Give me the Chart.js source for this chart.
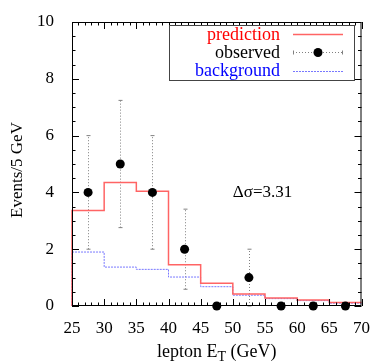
<!DOCTYPE html>
<html>
<head>
<meta charset="utf-8">
<script src="https://cdn.jsdelivr.net/npm/chart.js@4/dist/chart.umd.min.js"></script>
<style>
  html, body { margin: 0; padding: 0; background: #fff; }
</style>
</head>
<body>
<canvas id="chart" width="374" height="363"></canvas>
<script>
// histogram bins (GeV)
const binEdges = [25, 30, 35, 40, 45, 50, 55, 60, 65, 70];
const binCenters = [27.5, 32.5, 37.5, 42.5, 47.5, 52.5, 57.5, 62.5, 67.5];
const prediction = [3.36, 4.35, 4.04, 1.45, 0.80, 0.42, 0.28, 0.21, 0.12];
const background = [1.90, 1.37, 1.29, 1.02, 0.68, 0.38, 0.26, 0.19, 0.10];
const observed = [4, 5, 4, 2, 0, 1, 0, 0, 0];
const errLow = [2, 2.76, 2, 0.59, null, 0, null, null, null];
const errHigh = [6, 7.24, 6, 3.41, null, 2, null, null, null];
const xTicks = [25, 30, 35, 40, 45, 50, 55, 60, 65, 70];
const yTicks = [0, 2, 4, 6, 8, 10];

const SERIF = "'Liberation Serif', 'DejaVu Serif', serif";
const RED = '#ff6464';
const BLUE = '#7878ff';
const GREY = '#808080';

function stepPoints(vals) {
    const pts = [{ x: binEdges[0], y: 0 }];
    vals.forEach((v, i) => pts.push({ x: binEdges[i], y: v }));
    pts.push({ x: binEdges[binEdges.length - 1], y: vals[vals.length - 1] });
    return pts;
}

const obsPoints = observed.map((v, i) => ({ x: binCenters[i], y: v }));

// dotted error bars, drawn under the points
const errorBars = {
    id: 'errorBars',
    beforeDatasetsDraw(chart) {
        const c = chart.ctx, xs = chart.scales.x, ys = chart.scales.y;
        c.save();
        c.strokeStyle = GREY;
        c.lineWidth = 1;
        c.setLineDash([1, 2]);
        binCenters.forEach((x, i) => {
            if (errLow[i] === null) return;
            const px = Math.round(xs.getPixelForValue(x)) + 0.5;
            const y1 = ys.getPixelForValue(errLow[i]);
            const y2 = ys.getPixelForValue(errHigh[i]);
            c.beginPath();
            c.moveTo(px, y1); c.lineTo(px, y2);
            c.stroke();
            c.setLineDash([]);
            c.beginPath();
            c.moveTo(px - 2, y1); c.lineTo(px + 2, y1);
            c.moveTo(px - 2, y2); c.lineTo(px + 2, y2);
            c.stroke();
            c.setLineDash([1, 2]);
        });
        c.restore();
    }
};

// frame, inward ticks, titles, legend, label
const decorations = {
    id: 'decorations',
    afterDraw(chart) {
        const c = chart.ctx, a = chart.chartArea, xs = chart.scales.x, ys = chart.scales.y;
        c.save();
        c.strokeStyle = '#000';
        c.lineWidth = 1;
        c.strokeRect(a.left + 0.5, a.top + 0.5, a.right - a.left - 1, a.bottom - a.top - 1);

        c.beginPath();
        for (let v = xs.min; v <= xs.max; v += 1) {
            const len = v % 5 === 0 ? 7 : 3.5;
            const px = Math.round(xs.getPixelForValue(v)) + 0.5;
            c.moveTo(px, a.bottom); c.lineTo(px, a.bottom - len);
            c.moveTo(px, a.top); c.lineTo(px, a.top + len);
        }
        for (let v = ys.min; v <= ys.max + 0.001; v += 0.5) {
            const len = v % 2 === 0 ? 7 : 3.5;
            const py = Math.round(ys.getPixelForValue(v)) + 0.5;
            c.moveTo(a.left, py); c.lineTo(a.left + len, py);
            c.moveTo(a.right, py); c.lineTo(a.right - len, py);
        }
        c.stroke();

        // annotation
        c.fillStyle = '#000';
        c.font = '17px ' + SERIF;
        c.textAlign = 'left';
        c.textBaseline = 'middle';
        c.fillText('\u0394\u03c3=3.31', xs.getPixelForValue(50), ys.getPixelForValue(4));

        // x title with subscript
        const cx = (a.left + a.right) / 2, ty = 357;
        const p1 = 'lepton E', p3 = ' (GeV)';
        c.textBaseline = 'alphabetic';
        c.font = '18px ' + SERIF;
        const w1 = c.measureText(p1).width, w3 = c.measureText(p3).width;
        c.font = '14px ' + SERIF;
        const w2 = c.measureText('T').width;
        let x0 = cx - (w1 + w2 + w3) / 2;
        c.textAlign = 'left';
        c.font = '18px ' + SERIF;
        c.fillText(p1, x0, ty);
        c.font = '14px ' + SERIF;
        c.fillText('T', x0 + w1, ty + 4);
        c.font = '18px ' + SERIF;
        c.fillText(p3, x0 + w1 + w2, ty);
        c.textBaseline = 'middle';

        // y title
        c.save();
        c.font = '17px ' + SERIF;
        c.translate(18, 170);
        c.rotate(-Math.PI / 2);
        c.textAlign = 'center';
        c.fillText('Events/5 GeV', 0, 0);
        c.restore();

        // legend box
        c.fillStyle = '#fff';
        c.fillRect(169, 25, 185, 55);
        c.strokeStyle = '#444';
        c.strokeRect(169.5, 25.5, 185, 55);
        const rows = [
            { label: 'prediction', color: '#ff0000', y: 35 },
            { label: 'observed', color: '#000', y: 53 },
            { label: 'background', color: '#0000ff', y: 71 }
        ];
        c.font = '18px ' + SERIF;
        c.textAlign = 'right';
        rows.forEach(r => {
            c.fillStyle = r.color;
            c.fillText(r.label, 280, r.y);
        });
        c.lineWidth = 1.5;
        c.strokeStyle = RED;
        c.beginPath(); c.moveTo(293, 34.5); c.lineTo(343, 34.5); c.stroke();
        c.lineWidth = 1;
        c.strokeStyle = BLUE;
        c.setLineDash([2, 1]);
        c.beginPath(); c.moveTo(293, 71.5); c.lineTo(343, 71.5); c.stroke();
        c.strokeStyle = GREY;
        c.setLineDash([1, 2]);
        c.beginPath(); c.moveTo(293, 52.5); c.lineTo(343, 52.5); c.stroke();
        c.setLineDash([]);
        c.beginPath();
        c.moveTo(293.5, 50.5); c.lineTo(293.5, 54.5);
        c.moveTo(342.5, 50.5); c.lineTo(342.5, 54.5);
        c.stroke();
        c.fillStyle = '#000';
        c.beginPath(); c.arc(318, 52.5, 4.5, 0, Math.PI * 2); c.fill();
        c.restore();
    }
};

new Chart(document.getElementById('chart'), {
    type: 'line',
    data: {
        datasets: [
            {
                label: 'observed',
                type: 'scatter',
                data: obsPoints,
                showLine: false,
                pointRadius: 4.5,
                pointBackgroundColor: '#000',
                pointBorderWidth: 0,
                clip: false,
                order: 0
            },
            {
                label: 'prediction',
                data: stepPoints(prediction),
                stepped: 'before',
                borderColor: RED,
                borderWidth: 1.5,
                pointRadius: 0,
                fill: false,
                clip: 2,
                order: 1
            },
            {
                label: 'background',
                data: stepPoints(background),
                stepped: 'before',
                borderColor: BLUE,
                borderWidth: 1,
                borderDash: [2, 1],
                pointRadius: 0,
                fill: false,
                clip: 2,
                order: 2
            }
        ]
    },
    options: {
        responsive: false,
        animation: false,
        devicePixelRatio: 1,
        layout: { padding: { left: 0, top: 22, right: 8, bottom: 0 } },
        plugins: { legend: { display: false }, tooltip: { enabled: false } },
        scales: {
            x: {
                type: 'linear',
                min: 25,
                max: 70,
                afterBuildTicks: s => { s.ticks = xTicks.map(v => ({ value: v })); },
                afterFit: s => { s.height = 57; },
                grid: { display: false },
                border: { display: false },
                ticks: { color: '#000', padding: 4, maxRotation: 0, font: { family: SERIF, size: 17 } }
            },
            y: {
                min: 0,
                max: 10,
                afterBuildTicks: s => { s.ticks = yTicks.map(v => ({ value: v })); },
                afterFit: s => { s.width = 72; },
                grid: { display: false },
                border: { display: false },
                ticks: { color: '#000', padding: 10, font: { family: SERIF, size: 17 } }
            }
        }
    },
    plugins: [errorBars, decorations]
});
</script>
</body>
</html>
